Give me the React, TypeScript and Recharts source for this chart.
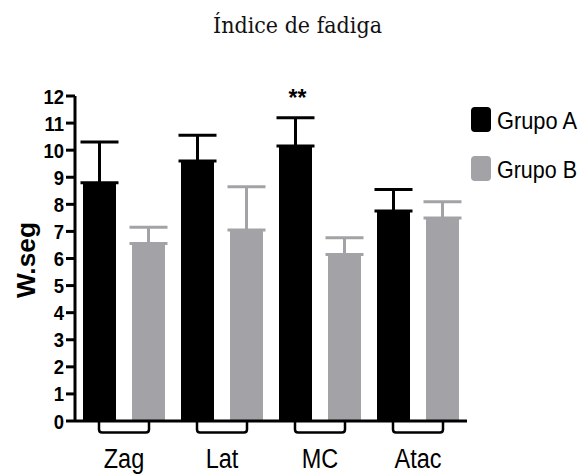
import React from 'react';
import { BarChart, Bar, XAxis, YAxis, ErrorBar, Legend, LabelList } from 'recharts';

const categories = ['Zag', 'Lat', 'MC', 'Atac'];
const grupoA = [8.8, 9.6, 10.15, 7.75];
const grupoAErr = [1.5, 0.95, 1.05, 0.8];
const grupoB = [6.55, 7.05, 6.15, 7.5];
const grupoBErr = [0.6, 1.6, 0.62, 0.6];
const significance = ['', '', '**', ''];
const yTicks = [0, 1, 2, 3, 4, 5, 6, 7, 8, 9, 10, 11, 12];

const series = [
  { key: 'a', name: 'Grupo A', color: '#000000' },
  { key: 'b', name: 'Grupo B', color: '#a3a3a7' },
];

const data = categories.map((name, i) => ({
  name,
  a: grupoA[i],
  aErr: [0, grupoAErr[i]],
  b: grupoB[i],
  bErr: [0, grupoBErr[i]],
}));

const SANS = '"Liberation Sans", Arial, sans-serif';

// no condensed font installed, so squeeze Liberation Sans horizontally
const CategoryTick = (props: any) => {
  const { x, y, payload } = props;
  const l = x - 25;
  const r = x + 25;
  const b = y + 11.5;
  return (
    <g>
      <path
        d={`M${l},${y} V${b - 3} Q${l},${b} ${l + 3},${b} H${r - 3} Q${r},${b} ${r},${b - 3} V${y}`}
        fill="none"
        stroke="#000"
        strokeWidth={2.5}
      />
      <text
        transform={`translate(${x},${y + 47}) scale(0.84,1)`}
        textAnchor="middle"
        fontFamily={SANS}
        fontSize={28}
        fill="#000"
      >
        {payload.value}
      </text>
    </g>
  );
};

const ValueTick = (props: any) => {
  const { x, y, payload } = props;
  return (
    <text
      transform={`translate(${x},${y}) scale(0.88,1)`}
      textAnchor="end"
      dy="0.36em"
      fontFamily={SANS}
      fontWeight={700}
      fontSize={21}
      fill="#000"
    >
      {payload.value}
    </text>
  );
};

const renderLegend = () => (
  <svg width={115} height={80}>
    {series.map((s, i) => (
      <g key={s.key} transform={`translate(0, ${i * 49})`}>
        <rect x={0} y={0} width={20} height={25} rx={4} fill={s.color} />
        <text x={26} y={22} fontFamily={SANS} fontSize={24} fill="#000" textLength={80} lengthAdjust="spacingAndGlyphs">
          {s.name}
        </text>
      </g>
    ))}
  </svg>
);

const renderStars = (p: any) => {
  const { x, y, width, height, index } = p;
  if (!significance[index]) return null;
  const pxPerUnit = height / grupoA[index];
  const top = y - grupoAErr[index] * pxPerUnit;
  return (
    <text x={x + width / 2 + 2} y={top - 12} textAnchor="middle" fontFamily={SANS} fontWeight={700} fontSize={23} fill="#000">
      {significance[index]}
    </text>
  );
};

export default function App() {
  return (
    <div style={{ position: 'absolute', left: 0, top: 0, width: 586, height: 474, background: '#fff' }}>
      <BarChart
        width={586}
        height={474}
        data={data}
        margin={{ top: 96, right: 119, left: 0, bottom: 0 }}
        barCategoryGap={8}
        barGap={16}
      >
        <XAxis
          dataKey="name"
          height={53}
          tickSize={0}
          tickMargin={0}
          tickLine={false}
          axisLine={{ stroke: '#000', strokeWidth: 3 }}
          tick={<CategoryTick />}
          interval={0}
        />
        <YAxis
          width={75}
          domain={[0, 12]}
          ticks={yTicks}
          interval={0}
          tickSize={9}
          tickMargin={2}
          tickLine={{ stroke: '#000', strokeWidth: 3 }}
          axisLine={{ stroke: '#000', strokeWidth: 3 }}
          tick={<ValueTick />}
        />
        <Legend
          layout="vertical"
          align="center"
          verticalAlign="middle"
          content={renderLegend}
          wrapperStyle={{ left: 471, top: 107, width: 115, height: 80 }}
        />
        <Bar dataKey="a" name="Grupo A" fill="#000000" isAnimationActive={false}>
          <ErrorBar dataKey="aErr" width={19} strokeWidth={3} stroke="#000000" direction="y" />
          <LabelList dataKey="a" content={renderStars} />
        </Bar>
        <Bar dataKey="b" name="Grupo B" fill="#a3a3a7" isAnimationActive={false}>
          <ErrorBar dataKey="bErr" width={19} strokeWidth={3} stroke="#a3a3a7" direction="y" />
        </Bar>
      </BarChart>
      <svg width={586} height={474} style={{ position: 'absolute', left: 0, top: 0, pointerEvents: 'none' }}>
        <text
          x={213}
          y={33}
          fontFamily='"DejaVu Serif", serif'
          fontSize={22}
          fill="#111"
          textLength={169}
          lengthAdjust="spacingAndGlyphs"
        >
          Índice de fadiga
        </text>
        <text
          x={35}
          y={298}
          transform="rotate(-90, 35, 298)"
          fontFamily={SANS}
          fontWeight={700}
          fontSize={26}
          fill="#000"
          textLength={76}
          lengthAdjust="spacingAndGlyphs"
        >
          W.seg
        </text>
      </svg>
    </div>
  );
}
